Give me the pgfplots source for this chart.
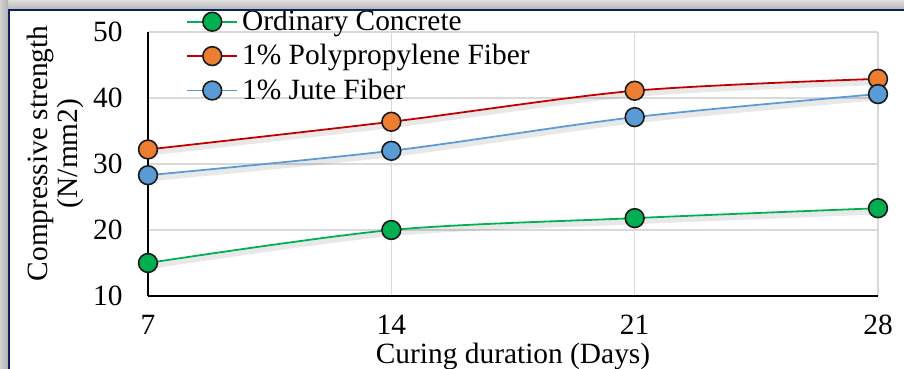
\documentclass[border=0pt]{standalone}
\usepackage{pgfplots}
\pgfplotsset{compat=1.18}
\usepackage{fontspec}
\setmainfont{Liberation Serif}
\definecolor{cgreen}{HTML}{00B050}
\definecolor{corange}{HTML}{ED7D31}
\definecolor{cred}{HTML}{C00000}
\definecolor{cblue}{HTML}{5B9BD5}
\definecolor{cgrid}{HTML}{D9D9D9}
\definecolor{cnavy}{HTML}{0B2160}
\definecolor{cedge}{HTML}{1A1A1A}
\newcommand{\fs}{\fontsize{14.7}{15}\selectfont}
\pgfplotstableread{
x green orange blue
7  15.0 32.2 28.3
14 20.0 36.4 32.0
21 21.8 41.1 37.1
28 23.3 42.9 40.6
}\datatable
\begin{document}
\begin{tikzpicture}
\useasboundingbox (0,0) rectangle (452pt,184.5pt);
\fill[white] (0,0) rectangle (452pt,184.5pt);
\shade[top color=gray!25, bottom color=gray!55] (0,180pt) rectangle (452pt,184.5pt);
\shade[left color=gray!35, right color=gray!60] (0,0) rectangle (4pt,184.5pt);
\begin{axis}[
  at={(74pt,36.5pt)}, anchor=south west,
  scale only axis, width=365pt, height=132pt,
  xmin=7, xmax=28, ymin=10, ymax=50,
  xtick={7,14,21,28}, ytick={10,20,30,40,50},
  axis x line*=bottom, axis y line*=left,
  axis line style={black, line width=0.9pt, -},
  major tick length=0pt,
  grid=major, major grid style={cgrid, line width=0.6pt},
  /pgf/number format/assume math mode=true,
  tick label style={font=\fs},
  yticklabel style={inner sep=0pt, xshift=-12.5pt},
  xticklabel style={inner sep=0pt, yshift=-9.5pt},
  xlabel={Curing duration (Days)},
  ylabel={Compressive strength\\(N/mm2)},
  xlabel style={font=\fs, at={(axis description cs:0.5,-0.23)}, anchor=center},
  ylabel style={font=\fs, align=center, at={(axis description cs:-0.127,0.54)}, anchor=center, rotate=0},
  legend style={at={(axis description cs:0.052,1.1)}, anchor=north west, draw=none, fill=none,
    font=\fs, row sep=1.5pt, inner sep=0pt, cells={anchor=west},
    /tikz/every even column/.append style={column sep=5pt}},
  legend image code/.code={\draw[mark repeat=2, mark phase=2] plot coordinates {(0pt,0pt) (12.5pt,0pt) (25pt,0pt)};},
  every axis plot/.append style={line width=0.9pt, smooth, tension=0.5},
  clip=false,
]
% soft shadows under the lines
\addplot[forget plot, black, opacity=0.09, line width=2.6pt, yshift=-1.8pt, mark=none] table[x=x, y=green] {\datatable};
\addplot[forget plot, black, opacity=0.09, line width=2.6pt, yshift=-1.8pt, mark=none] table[x=x, y=orange] {\datatable};
\addplot[forget plot, black, opacity=0.09, line width=2.6pt, yshift=-1.8pt, mark=none] table[x=x, y=blue] {\datatable};
\addplot[cgreen, mark=*, mark size=4.7pt, mark options={fill=cgreen, draw=cedge, line width=0.8pt}] table[x=x, y=green] {\datatable};
\addlegendentry{Ordinary Concrete}
\addplot[cred, mark=*, mark size=4.7pt, mark options={fill=corange, draw=cedge, line width=0.8pt}] table[x=x, y=orange] {\datatable};
\addlegendentry{1\% Polypropylene Fiber}
\addplot[cblue, mark=*, mark size=4.7pt, mark options={fill=cblue, draw=cedge, line width=0.8pt}] table[x=x, y=blue] {\datatable};
\addlegendentry{1\% Jute Fiber}
\end{axis}
\draw[cnavy, line width=1.1pt] (4.5pt,-5pt) -- (4.5pt,179.6pt) -- (460pt,179.6pt);
\end{tikzpicture}
\end{document}
